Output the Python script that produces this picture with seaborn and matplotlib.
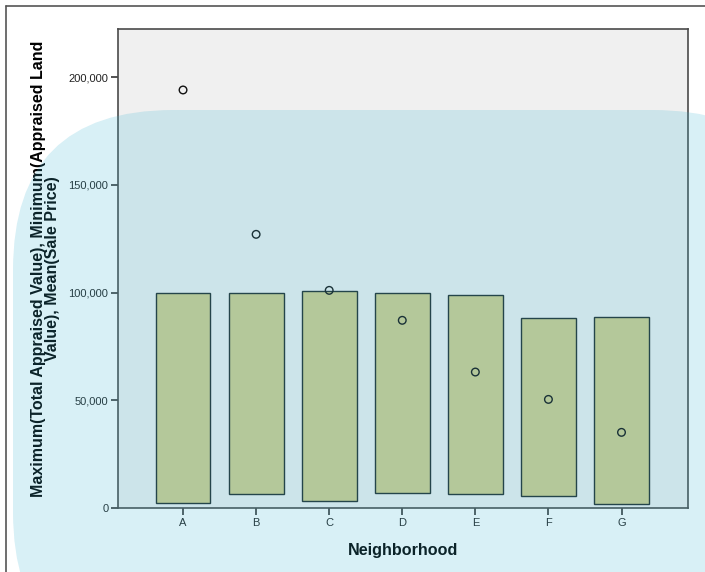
import numpy as np
import pandas as pd
import matplotlib
matplotlib.use("Agg")
import matplotlib.pyplot as plt
from matplotlib.patches import FancyBboxPatch
from matplotlib.lines import Line2D
from matplotlib.ticker import FuncFormatter
import seaborn as sns

# Data
neighborhoods = ["A", "B", "C", "D", "E", "F", "G"]
max_total_appraised = [100000, 100000, 100500, 100000, 98800, 88300, 88800]
min_land_value = [2200, 6500, 3400, 6800, 6600, 5600, 1700]
mean_sale_price = [194000, 127000, 101000, 87100, 63100, 50400, 35100]

df = pd.DataFrame({
    "Neighborhood": neighborhoods,
    "high": max_total_appraised,
    "low": min_land_value,
    "mean": mean_sale_price,
})
df["span"] = df["high"] - df["low"]

sns.set_theme(style="ticks")
plt.rcParams["font.family"] = ["Liberation Sans", "DejaVu Sans"]

fig = plt.figure(figsize=(7.05, 5.72), dpi=100)
fig.patch.set_facecolor("white")
ax = fig.add_axes([118 / 705, 1 - 508 / 572, 570 / 705, 479 / 572])
ax.set_facecolor("#f0f0f0")

sns.barplot(data=df, x="Neighborhood", y="span", bottom=df["low"].to_numpy(),
            color="#d3ce8d", saturation=1, width=0.75, edgecolor="#1f2a2a",
            linewidth=1.0, ax=ax, zorder=2)
sns.scatterplot(data=df, x="Neighborhood", y="mean", marker="o", s=30,
                facecolor="none", edgecolor="#111111", linewidth=1.0,
                ax=ax, zorder=3)

ax.set_xlim(-0.89, 6.91)
ax.set_ylim(0, 222300)
ax.set_yticks([0, 50000, 100000, 150000, 200000])
ax.yaxis.set_major_formatter(FuncFormatter(lambda v, p: f"{int(v):,}"))

for s in ax.spines.values():
    s.set_color("#4a4a4a")
    s.set_linewidth(1.2)
ax.tick_params(axis="both", direction="out", length=5, width=1.1,
               color="#222222", labelsize=8, labelcolor="#222222", pad=2)

ax.set_xlabel("Neighborhood", fontsize=11.6, fontweight="bold", labelpad=11,
              color="black")
ax.set_ylabel("Maximum(Total Appraised Value), Minimum(Appraised Land\nValue), Mean(Sale Price)",
              fontsize=11.5, fontweight="bold", labelpad=6, linespacing=0.92,
              color="black")

# screenshot frame
fig.add_artist(Line2D([6 / 705, 1], [1 - 6 / 572, 1 - 6 / 572], color="#555555", lw=1.2,
                      transform=fig.transFigure))
fig.add_artist(Line2D([6 / 705, 6 / 705], [0, 1 - 6 / 572], color="#555555", lw=1.2,
                      transform=fig.transFigure))

# translucent light-blue background overlay seen in the reference
overlay = FancyBboxPatch((13, -100), 800, 572 - 110 + 100,
                         boxstyle="round,pad=0,rounding_size=160",
                         transform=None, facecolor=(60 / 255, 180 / 255, 210 / 255),
                         edgecolor="none", alpha=0.2, zorder=10)
fig.add_artist(overlay)

fig.savefig("out.png", dpi=100)
